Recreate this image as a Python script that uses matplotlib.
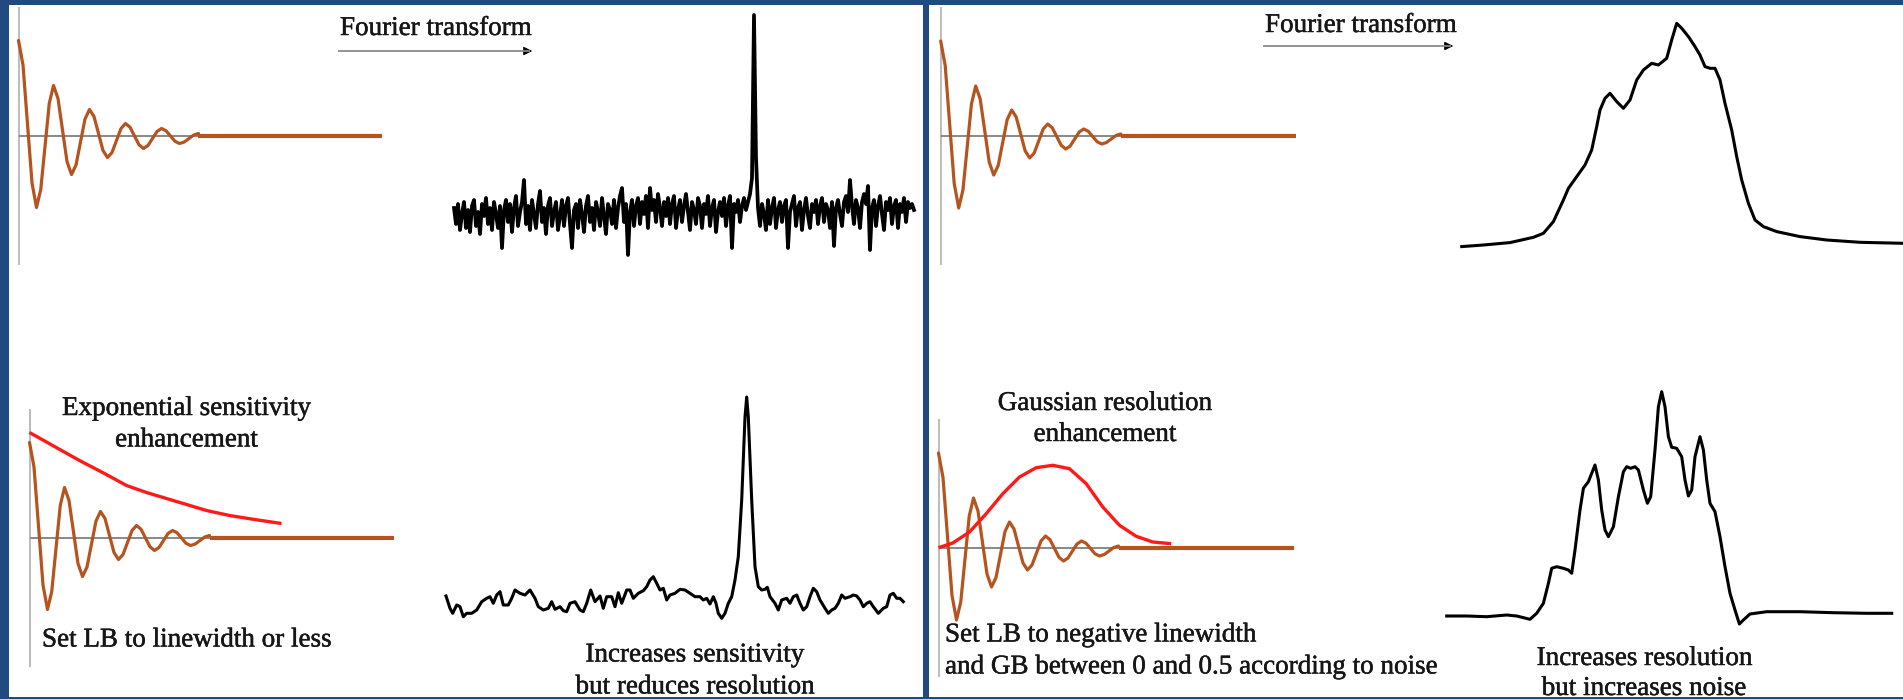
import numpy as np
import matplotlib
matplotlib.use("Agg")
import matplotlib.pyplot as plt
import matplotlib.patheffects as pe
from matplotlib.patches import Rectangle, FancyArrowPatch
from matplotlib.lines import Line2D

# ---------------- data ----------------
# Free induction decay (shared by the four FID panels): time (a.u.), amplitude (a.u.)
FID_T = [0, 4.5, 9, 13.5, 18, 22.25, 26.5, 30.75, 35, 39.5, 44, 48.5, 53, 57.5, 62, 66.5,
         71, 75.5, 80, 84.5, 89, 93.5, 98, 102.5, 107, 111.5, 116, 120.5, 125, 129.5, 134,
         138.5, 143, 147.5, 152, 156.5, 161, 165.75, 170.5, 175.25, 180]
FID_A = [95, 70.5, 11.5, -47.5, -72, -54, -11, 32, 50, 37, 5.5, -26, -39, -29.5, -6.5, 16.5,
         26, 19, 2, -15, -22, -17, -5, 7, 12, 8.3, -0.5, -9.3, -13, -10, -3, 4,
         7, 4.8, -0.5, -5.8, -8, -6.5, -3, 0.5, 2]
ZERO_FILL_END_LEFT = 364
ZERO_FILL_END_RIGHT = 355

# Exponential window (sensitivity enhancement)
EXP_T = [0, 25, 50, 75, 97, 117, 137, 157, 177, 200, 225, 252]
EXP_W = [105, 91, 77, 64, 52, 45, 39, 33, 27, 22, 18, 14]

# Gaussian window (resolution enhancement)
GAU_T = [0, 14.3, 31, 47.7, 64.3, 81, 97.7, 114.3, 131, 147.7, 164.3, 181, 197.7, 214.3, 232.7]
GAU_W = [0.3, 5, 16, 34.3, 54.3, 71, 80.3, 82.7, 79.3, 64.3, 41, 22.7, 11.7, 6, 4.3]

# Raw spectrum (noisy), sampled every 2 units
NOISE_STEP = 2
RAW_I = [10, -6, 14, -12, 4, 16, -10, 8, -14, 12,
         18, -8, 6, -16, 14, 2, 20, -6, 10, -12,
         16, 4, -10, 12, -30, 8, 18, -4, 14, -14,
         10, 22, -8, 6, 16, 38, -6, 12, -12, 18,
         4, -10, 14, 27, -4, 10, -16, 12, 20, -8,
         6, 16, -12, 2, 18, -8, 12, 20, -6, -30,
         8, 14, -10, 18, 4, -14, 12, 22, -4, 10,
         -12, 16, 6, -8, 20, 2, -16, 14, 8, -6,
         18, -10, 10, 22, 30, -4, 14, -37, 6, 18,
         -8, 12, 20, -6, 16, 4, 22, -10, 30, 8,
         18, -4, 24, 10, -8, 16, 2, 20, -6, 14,
         22, -10, 8, 18, -4, 12, 24, 6, -12, 16,
         8, -6, 20, 12, -10, 14, 4, 22, -8, 10,
         18, -14, 6, 16, 2, 20, -8, 12, 22, -30,
         14, 6, 18, -4, 12, 20, 8, 16, 24, 40,
         203, 60, 10, -8, 14, 4, -12, 18, -6, 10,
         20, -10, 8, 16, -4, 12, 18, -30, 6, 14,
         22, -8, 10, 16, -12, 8, 20, 2, -10, 14,
         6, 18, -6, 12, 20, -4, 14, 8, -10, 16,
         -28, 10, 18, 4, -8, 16, 22, 6, 38, 12,
         -6, 18, 10, -10, 16, 24, 14, 32, -32, 10,
         18, -8, 12, 22, 4, -12, 16, 8, 20, -6,
         12, 18, -10, 14, 6, 20, -4, 16, 10, 14,
         8]

# Exponentially weighted spectrum
EXPSPEC_X = [0, 4, 6.7, 10.7, 14, 17.3, 20.7, 25.7, 30.7, 35.7, 40.7, 44, 47.3, 50.7, 54, 57.3,
             62.3, 65.7, 69, 74, 79, 84, 89, 92.3, 97.3, 102.3, 105.7, 109, 114, 117.3, 120.7,
             124, 129, 134, 137.3, 140.7, 144.7, 149, 154, 157.3, 160.7, 165.7, 169, 172.3,
             175.7, 180.7, 184, 187.3, 192.3, 197.3, 200.7, 204, 207.3, 210.7, 214, 217.3,
             220.7, 224, 229, 234, 239, 244, 249, 254, 257.3, 260.7, 264, 267.3, 270, 272.3,
             275.7, 279, 282.3, 285.7, 289, 292.3, 295.7, 299, 300.7, 302.3, 305.7, 309, 312.3,
             315.7, 319, 321.3, 324, 329, 332.3, 335.7, 340.7, 344, 347.3, 350.7, 354, 357.3,
             360.7, 364, 367.3, 370.7, 374, 379, 382.3, 385.7, 389, 392.3, 395.7, 399, 404,
             407.3, 410.7, 414, 417.3, 420.7, 424, 427.3, 432.3, 437.3, 440.7, 444, 447.3,
             450.7, 454, 457.3]
EXPSPEC_I = [11, -1.3, -6.3, 2, 0.3, -9.7, -6.3, -6.3, -3, 5.3, 8.7, 10.3, 3.7, 12, 15.3, 2,
             2, 8.7, 17, 13.7, 12, 17, 8.7, 0.3, -3, -1.3, 5.3, -2.3, 0.3, -3.7, -4.7,
             3.7, 5.3, -3, -4.7, 3.7, 17, 5.3, 11, -1.3, 10.3, 10.3, 0.3, 14.3,
             3.7, 17, 17, 8.7, 13.7, 16.3, 20.3, 27, 30.3, 23.7, 17, 18.7,
             7, 12, 13.7, 17.7, 17, 13.7, 10.3, 10.3, 7, 8.7, 3, 10.3, 3.7, -6.3,
             -11.3, -6.3, 3.7, 10.3, 27, 50.3, 107, 190, 210, 190, 107, 40.3, 20.3,
             17, 17.7, 19.7, 10.3, 3.7, -3, 7, 8.7, 3.7, 10.3, 12, 3.7, -3,
             0.3, 10.3, 18.7, 15.3, 7, -1.3, -6.3, -3, -1.3, 3.7, 12, 8.7, 10.3,
             12, 11, 7, 0.3, 3.7, 5.3, 0.3, -6.3, -1.3, 0.3, 12, 13.7,
             8.7, 8.7, 5.3]

# Broad raw spectrum (right, top)
BROAD_X = [0, 21.7, 48.3, 71.7, 81.7, 91.7, 101.7, 106.7, 115, 123.3, 130, 135, 138.3, 143.3,
           148.3, 155, 161.7, 168.3, 175, 181.7, 190, 196.7, 205, 210, 215, 220, 226.7, 233.3,
           238.3, 243.3, 248.3, 253.3, 258.3, 263.3, 270, 275, 280, 286.7, 293.3, 301.7, 315,
           338.3, 365, 398.3, 441.3]
BROAD_I = [1.7, 3.3, 5.7, 11, 15, 26.7, 48.3, 60, 71.7, 83.3, 98.3, 121.7, 138.3, 150,
           155, 146.7, 140, 148.3, 168.3, 178.3, 185, 183.3, 190, 208.3, 225, 220, 211.7, 201.7,
           193.3, 181.7, 180, 180, 168.3, 145, 118.3, 91.7, 68.3, 45, 28.3, 21.7, 16.7,
           11.7, 8.3, 6, 5]

# Resolution-enhanced spectrum (right, bottom)
RES_X = [0, 20, 40, 60, 70, 83.3, 90, 96.7, 101.7, 105, 110, 116.7, 121.7, 125, 128.3, 133.3,
         136.7, 141.7, 145, 148.3, 151.7, 155, 158.3, 161.7, 166.7, 171.7, 176.7, 180, 184,
         188.3, 191.7, 196.7, 200.7, 204, 208.3, 211.7, 215, 218.3, 221.7, 225, 230, 235,
         238.3, 241.7, 245, 248.3, 253.3, 256.7, 260, 263.3, 268.3, 273.3, 278.3, 283.3,
         288.3, 292.7, 296.7, 303.3, 320, 353.3, 386.7, 420, 445]
RES_I = [-1, -1, -1.7, 0, -1, -4.3, 1.7, 11.7, 31.7, 46.7, 48.3, 46.7, 45, 41.7, 65, 105,
         126.7, 133.3, 141.7, 150, 135, 105, 85, 78.3, 88.3, 118.3, 143.3, 148.3, 146.7,
         148.3, 145, 125, 111.7, 118.3, 165, 208.3, 223.3, 208.3, 178.3, 167.7, 166.7, 158.3,
         135, 119, 125, 158.3, 178.3, 165, 135, 111.7, 103.3, 78.3, 48.3, 21.7,
         5, -9, -5, 1, 3.3, 3.3, 2.3, 1.7, 1.7]

TITLE_FT = "Fourier transform"
LABELS = {
    "exp_title": ["Exponential sensitivity", "enhancement"],
    "exp_note": "Set LB to linewidth or less",
    "exp_result": ["Increases sensitivity", "but reduces resolution"],
    "gau_title": ["Gaussian resolution", "enhancement"],
    "gau_note": ["Set LB to negative linewidth", "and GB between 0 and 0.5 according to noise"],
    "gau_result": ["Increases resolution", "but increases noise"],
}

# ---------------- style ----------------
W, H = 1903, 699
BLUE = "#214a7e"
BROWN = "#b5541f"
RED = "#ff1a1a"
TXT = "#161616"
FONT = "Liberation Serif"
FS = 19.5

fig = plt.figure(figsize=(W / 100, H / 100), dpi=100, facecolor=BLUE)


def fx(x):
    return x / W


def fy(y):
    return 1 - y / H


# white panels
fig.add_artist(Rectangle((fx(9), fy(697)), (923 - 9) / W, (697 - 5) / H,
                         transform=fig.transFigure, facecolor="white", edgecolor="none", zorder=-2))
fig.add_artist(Rectangle((fx(929), fy(697)), (W - 929) / W, (697 - 5) / H,
                         transform=fig.transFigure, facecolor="white", edgecolor="none", zorder=-2))


def panel(x0, base_y, width, up, down, xmin=0.0):
    ax = fig.add_axes([fx(x0 + xmin), fy(base_y + down), width / W, (up + down) / H])
    ax.set_xlim(xmin, xmin + width)
    ax.set_ylim(-down, up)
    ax.set_axis_off()
    ax.patch.set_visible(False)
    return ax


def fid_panel(x0, base_y, fill_end):
    ax = panel(x0, base_y, fill_end + 12, 128, 128, xmin=-5)
    ax.axvline(0, color="#bdbdbd", lw=1.5, clip_on=False)
    ax.hlines(0, 0, FID_T[-1] + 1, color="#7f7f7f", lw=1.3)
    ax.plot(FID_T, FID_A, color=BROWN, lw=2.3, solid_joinstyle="round",
            solid_capstyle="round", clip_on=False)
    ax.plot([FID_T[-1], fill_end], [0, 0], color=BROWN, lw=3.0, solid_capstyle="butt")
    return ax


# ---- left half ----
fid_panel(18.5, 135.5, ZERO_FILL_END_LEFT)
ax = fid_panel(29.5, 537.5, ZERO_FILL_END_LEFT)
ax.plot(EXP_T, EXP_W, color=RED, lw=2.4, solid_capstyle="butt", solid_joinstyle="round")

ax = panel(454, 218, 462, 215, 45)
raw_x = np.arange(len(RAW_I)) * NOISE_STEP
ax.plot(raw_x, RAW_I, color="black", lw=2.7, solid_joinstyle="round", clip_on=False)

ax = panel(446, 607, 460, 215, 30)
ax.plot(EXPSPEC_X, EXPSPEC_I, color="black", lw=2.2, solid_joinstyle="round", clip_on=False)

# ---- right half ----
fid_panel(940.7, 136, ZERO_FILL_END_RIGHT)
ax = fid_panel(938.5, 548, ZERO_FILL_END_RIGHT)
ax.plot(GAU_T, GAU_W, color=RED, lw=2.4, solid_capstyle="butt", solid_joinstyle="round")

ax = panel(1461.7, 248.3, 442, 235, 20)
ax.plot(BROAD_X, BROAD_I, color="black", lw=2.2, solid_joinstyle="round", clip_on=False)

ax = panel(1446.7, 615, 446, 235, 25)
ax.plot(RES_X, RES_I, color="black", lw=2.2, solid_joinstyle="round", clip_on=False)


# ---- arrows + texts ----
def ft_arrow(x0, x1, y):
    fig.add_artist(Line2D([fx(x0), fx(x1 - 6)], [fy(y), fy(y)], transform=fig.transFigure,
                          color="#8a8a8a", lw=1.3))
    fig.add_artist(FancyArrowPatch((fx(x1 - 10), fy(y)), (fx(x1), fy(y)),
                                   transform=fig.transFigure, arrowstyle="-|>",
                                   mutation_scale=13, color="black", lw=0.8))


STROKE = [pe.withStroke(linewidth=0.35, foreground=TXT)]


def txt(x, y, s, ha="left"):
    fig.text(fx(x), fy(y), s, ha=ha, va="baseline", fontsize=FS, family=FONT, color=TXT,
             path_effects=STROKE)


txt(340, 35, TITLE_FT)
ft_arrow(339, 535, 51)
txt(1265, 32, TITLE_FT)
ft_arrow(1264, 1456, 46)

txt(186.5, 415, LABELS["exp_title"][0], ha="center")
txt(186.5, 446.5, LABELS["exp_title"][1], ha="center")
txt(42, 646.5, LABELS["exp_note"])
txt(695, 661.5, LABELS["exp_result"][0], ha="center")
txt(695, 693.5, LABELS["exp_result"][1], ha="center")

txt(1105, 410, LABELS["gau_title"][0], ha="center")
txt(1105, 441, LABELS["gau_title"][1], ha="center")
txt(945, 641.5, LABELS["gau_note"][0])
txt(945, 673.5, LABELS["gau_note"][1])
txt(1644.5, 665, LABELS["gau_result"][0], ha="center")
txt(1644, 695, LABELS["gau_result"][1], ha="center")

# frame pieces drawn over everything
for (x0, y0, x1, y1) in [(0, 0, W, 5), (0, 0, 9, H), (923, 0, 929, H), (0, 697, W, H)]:
    fig.add_artist(Rectangle((fx(x0), fy(y1)), (x1 - x0) / W, (y1 - y0) / H,
                             transform=fig.transFigure, facecolor=BLUE, edgecolor="none",
                             zorder=10))

fig.savefig("out.png", dpi=100, facecolor=BLUE)
